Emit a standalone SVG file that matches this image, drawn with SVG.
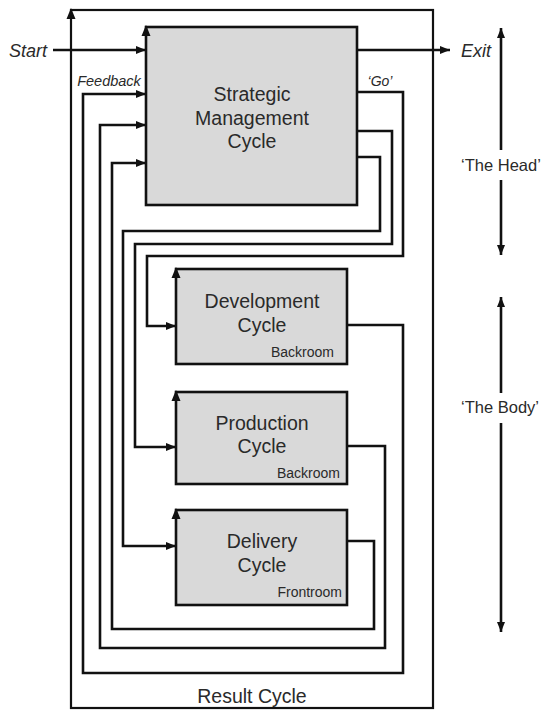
<svg xmlns="http://www.w3.org/2000/svg" width="547" height="710" viewBox="0 0 547 710">
<defs>
<style>
.box{fill:#d9d9d9;stroke:#111;stroke-width:2.6}
.frame{fill:none;stroke:#111;stroke-width:2.2}
.wire{fill:none;stroke:#111;stroke-width:2.6;stroke-linejoin:miter}
.tip{fill:#111}
.t{font-family:"Liberation Sans",Arial,sans-serif;fill:#2a2a2a;text-anchor:middle}
.big{font-size:19.5px}
.small{font-size:14px;text-anchor:end}
.it{font-style:italic}
</style>
<marker id="ah" viewBox="0 0 10 8" markerWidth="10" markerHeight="8" refX="10" refY="4" orient="auto" markerUnits="userSpaceOnUse">
<path d="M0,0 L10,4 L0,8 z" fill="#111"/>
</marker>
</defs>
<rect width="547" height="710" fill="#fff"/>

<g id="result-cycle">
<rect class="frame" x="71" y="10" width="362" height="698"/>
<path class="tip" d="M71,8 l-4.5,11 h9 z"/>
<text class="t big" x="252" y="703">Result Cycle</text>
</g>

<g id="connectors">
<path class="wire" d="M53,50 H146" marker-end="url(#ah)"/>
<path class="wire" d="M357,50 H450" marker-end="url(#ah)"/>
<path class="wire" d="M357,92 H403 V256 H147 V326 H176" marker-end="url(#ah)"/>
<path class="wire" d="M357,131 H392 V244 H135 V447 H176" marker-end="url(#ah)"/>
<path class="wire" d="M357,157 H380 V231 H123 V546 H176" marker-end="url(#ah)"/>
<path class="wire" d="M347,325 H403 V673 H83 V94 H146" marker-end="url(#ah)"/>
<path class="wire" d="M347,446 H385 V648 H100 V125 H146" marker-end="url(#ah)"/>
<path class="wire" d="M347,541 H374 V629 H112 V163 H146" marker-end="url(#ah)"/>
</g>

<g id="strategic">
<rect class="box" x="146" y="27" width="211" height="178"/>
<path class="tip" d="M146,25 l-4.5,11 h9 z"/>
<text class="t big" x="252" y="101">Strategic</text>
<text class="t big" x="252" y="125">Management</text>
<text class="t big" x="252" y="148">Cycle</text>
</g>

<g id="development">
<rect class="box" x="176" y="269" width="171" height="95"/>
<path class="tip" d="M176,267 l-4.5,11 h9 z"/>
<text class="t big" x="262" y="308">Development</text>
<text class="t big" x="262" y="332">Cycle</text>
<text class="t small" x="334" y="357">Backroom</text>
</g>

<g id="production">
<rect class="box" x="176" y="392" width="171" height="92"/>
<path class="tip" d="M176,390 l-4.5,11 h9 z"/>
<text class="t big" x="262" y="430">Production</text>
<text class="t big" x="262" y="453">Cycle</text>
<text class="t small" x="340" y="478">Backroom</text>
</g>

<g id="delivery">
<rect class="box" x="176" y="510" width="171" height="95"/>
<path class="tip" d="M176,508 l-4.5,11 h9 z"/>
<text class="t big" x="262" y="548">Delivery</text>
<text class="t big" x="262" y="572">Cycle</text>
<text class="t small" x="342" y="597">Frontroom</text>
</g>

<g id="labels">
<text class="t it" x="28" y="57" font-size="18">Start</text>
<text class="t it" x="476" y="57" font-size="18">Exit</text>
<text class="t it" x="109" y="86" font-size="14.5">Feedback</text>
<text class="t it" x="380" y="86" font-size="14">‘Go’</text>
</g>

<g id="head-body">
<path class="wire" d="M501,150 V28" marker-end="url(#ah)"/>
<path class="wire" d="M501,180 V255" marker-end="url(#ah)"/>
<text class="t" x="501" y="171" font-size="16.5">‘The Head’</text>
<path class="wire" d="M501,393 V297" marker-end="url(#ah)"/>
<path class="wire" d="M501,423 V632" marker-end="url(#ah)"/>
<text class="t" x="500" y="413" font-size="16.5">‘The Body’</text>
</g>
</svg>
